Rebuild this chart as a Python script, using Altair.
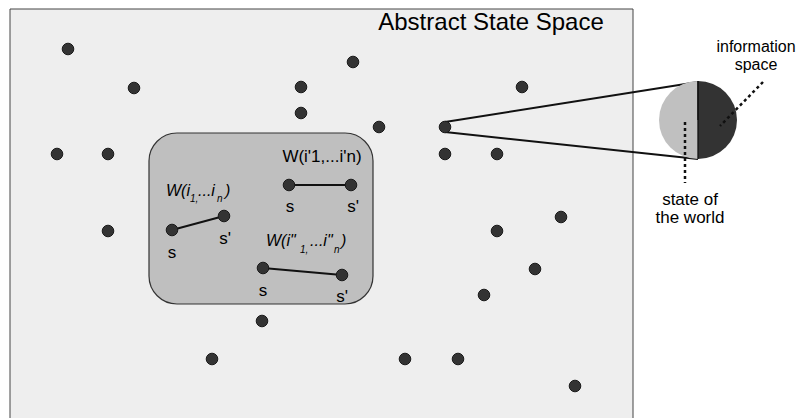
import altair as alt
import pandas as pd

# free states in the abstract state space
dot_x = [68, 353, 134, 301, 522, 301, 379, 445, 57, 108, 445, 497, 108, 561, 497, 535, 484, 262, 212, 405, 458, 575]
dot_y = [49, 62, 88, 87, 87, 113, 127, 127, 154, 154, 154, 154, 231, 217, 231, 269, 295, 321, 359, 359, 359, 386]

# transitions inside the grouped region (s -> s')
tr_x = [172, 289, 263]
tr_y = [230, 185, 268]
tr_x2 = [224, 351, 342]
tr_y2 = [216, 185, 275]

# title
title_text = ["Abstract State Space"]
title_x = [491]
title_y = [23]

# regular labels
lab_text = ["state of", "the world", "W(i'1,...i'n)", "s", "s'", "s", "s'", "s", "s'"]
lab_x = [690, 690, 322, 290, 353, 172, 225, 263, 342]
lab_y = [200, 218, 157, 207, 207, 253, 239, 291, 297]

# label at the right edge
edge_text = ["information", "space"]
edge_x = [756, 756]
edge_y = [47, 65]

# italic labels with subscripts (left-aligned pieces)
it_text = ["W(i", "...i", ")", "W(i\"", "...i\"", ")"]
it_x = [166, 198, 225, 266, 310, 341]
it_y = [191, 191, 191, 241, 241, 241]
sub_text = ["1,", "n", "1,", "n"]
sub_x = [190, 217, 300, 334]
sub_y = [199, 199, 250, 250]

# projection lines and dotted pointers
proj_x = [445, 445]
proj_y = [122, 132]
proj_x2 = [698, 698]
proj_y2 = [82, 159]
dash_x = [763, 685]
dash_y = [82, 122]
dash_x2 = [720, 685]
dash_y2 = [126, 183]

# zoomed circle
circ_x = [698]
circ_y = [120]

X = alt.X("x:Q", scale=alt.Scale(domain=[8, 796], nice=False, zero=False), axis=None)
Y = alt.Y("y:Q", scale=alt.Scale(domain=[8, 418], nice=False, zero=False, reverse=True), axis=None)

outer = alt.Chart(pd.DataFrame({"x": [10], "x2": [633], "y": [9], "y2": [440]})).mark_rect(
    fill="#eeeeee", stroke="#444444", strokeWidth=1, clip=True
).encode(x=X, x2="x2:Q", y=Y, y2="y2:Q")

inner = alt.Chart(pd.DataFrame({"x": [149], "x2": [373], "y": [133], "y2": [304]})).mark_rect(
    fill="#bfbfbf", stroke="#333333", strokeWidth=1.2, cornerRadius=28
).encode(x=X, x2="x2:Q", y=Y, y2="y2:Q")

proj = alt.Chart(pd.DataFrame({"x": proj_x, "y": proj_y, "x2": proj_x2, "y2": proj_y2})).mark_rule(
    color="#111111", strokeWidth=2
).encode(x=X, y=Y, x2="x2:Q", y2="y2:Q")

tr = alt.Chart(pd.DataFrame({"x": tr_x, "y": tr_y, "x2": tr_x2, "y2": tr_y2})).mark_rule(
    color="#111111", strokeWidth=2
).encode(x=X, y=Y, x2="x2:Q", y2="y2:Q")

dots_df = pd.DataFrame({"x": dot_x + tr_x + tr_x2, "y": dot_y + tr_y + tr_y2})
dots = alt.Chart(dots_df).mark_circle(
    size=135, color="#333333", opacity=1, stroke="#1a1a1a", strokeWidth=1
).encode(x=X, y=Y)

cdf = pd.DataFrame({"x": circ_x, "y": circ_y})
left_half = alt.Chart(cdf).mark_arc(theta=3.14159, theta2=6.28318, radius=39, fill="#c0c0c0").encode(x=X, y=Y)
right_half = alt.Chart(cdf).mark_arc(theta=0, theta2=3.14159, radius=39, fill="#333333").encode(x=X, y=Y)
outline = alt.Chart(cdf).mark_arc(theta=0, theta2=6.28318, radius=39, fill=None, filled=False,
                                  stroke="#111111", strokeWidth=1.3).encode(x=X, y=Y)
divider = alt.Chart(pd.DataFrame({"x": circ_x, "y": [81], "y2": [159]})).mark_rule(
    color="#111111", strokeWidth=1.3
).encode(x=X, y=Y, y2="y2:Q")

dashes = alt.Chart(pd.DataFrame({"x": dash_x, "y": dash_y, "x2": dash_x2, "y2": dash_y2})).mark_rule(
    color="#111111", strokeWidth=2.5, strokeDash=[3, 3]
).encode(x=X, y=Y, x2="x2:Q", y2="y2:Q")

title = alt.Chart(pd.DataFrame({"x": title_x, "y": title_y, "t": title_text})).mark_text(
    font="Liberation Sans", fontSize=24, color="#000000", baseline="middle", align="center"
).encode(x=X, y=Y, text="t:N")

labels = alt.Chart(pd.DataFrame({"x": lab_x, "y": lab_y, "t": lab_text})).mark_text(
    font="Liberation Sans", fontSize=17, color="#000000", baseline="middle", align="center"
).encode(x=X, y=Y, text="t:N")

edge_labels = alt.Chart(pd.DataFrame({"x": edge_x, "y": edge_y, "t": edge_text})).mark_text(
    font="Liberation Sans", fontSize=16, color="#000000", baseline="middle", align="center"
).encode(x=X, y=Y, text="t:N")

it_labels = alt.Chart(pd.DataFrame({"x": it_x, "y": it_y, "t": it_text})).mark_text(
    font="Liberation Sans", fontStyle="italic", fontSize=16, color="#000000", baseline="middle", align="left"
).encode(x=X, y=Y, text="t:N")

sub_labels = alt.Chart(pd.DataFrame({"x": sub_x, "y": sub_y, "t": sub_text})).mark_text(
    font="Liberation Sans", fontStyle="italic", fontSize=10, color="#000000", baseline="middle", align="left"
).encode(x=X, y=Y, text="t:N")

chart = alt.layer(
    outer, inner, proj, tr, dots, left_half, right_half, divider, outline, dashes,
    title, labels, edge_labels, it_labels, sub_labels
).properties(
    width=788, height=410, padding=0, autosize=alt.AutoSizeParams(type="none"), background="white"
).configure_view(stroke=None)

chart.save("out.html", embed_options={"renderer": "svg", "actions": False})
